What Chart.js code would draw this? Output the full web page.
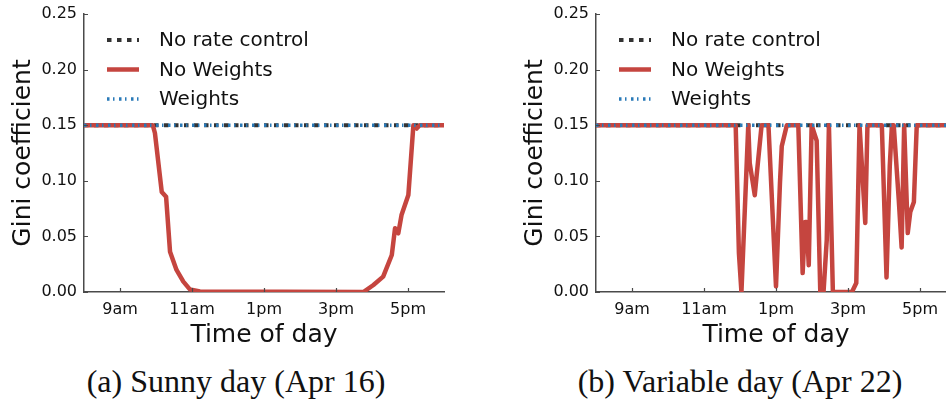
<!DOCTYPE html>
<html>
<head>
<meta charset="utf-8">
<script src="https://cdn.jsdelivr.net/npm/chart.js@4"></script>
<style>
    body { margin: 0; width: 946px; height: 404px; overflow: hidden; background: #fff; position: relative; }
    .panel { position: absolute; top: 0; }
    .caption { position: absolute; top: 365px; height: 32px; line-height: 32px; font-family: "Liberation Serif", serif; font-size: 32px; color: #111; white-space: nowrap; transform: translateX(-50%); }
</style>
</head>
<body>
<div class="panel" style="left:0px"><canvas id="sunnyChart" width="460" height="350"></canvas></div>
<div class="panel" style="left:512px"><canvas id="variableChart" width="460" height="350"></canvas></div>
<div class="caption" style="left:236px">(a) Sunny day (Apr 16)</div>
<div class="caption" style="left:740px">(b) Variable day (Apr 22)</div>
<script>
// Time of day in hours (8 = 8am, 18 = 6pm)
const xRange = [8, 18];
const tickHours = [9, 11, 13, 15, 17];
const tickLabels = ['9am', '11am', '1pm', '3pm', '5pm'];

// Flat baselines (no rate control / weights)
const baselineHours = [8, 18];
const noRateControl = [0.15, 0.15];
const weights = [0.15, 0.15];

// Sunny day (Apr 16), "No Weights" series
const sunnyHours = [8, 9.91, 9.97, 10.16, 10.28, 10.39, 10.57, 10.76, 10.94, 11.22, 15.76, 16.04, 16.31, 16.55, 16.64, 16.73, 16.82, 17.01, 17.15, 17.24, 17.33, 18];
const sunnyNoWeights = [0.15, 0.15, 0.143, 0.090, 0.0857, 0.0362, 0.0198, 0.0093, 0.0024, 0.0005, 0, 0.0063, 0.0138, 0.0333, 0.0573, 0.0528, 0.0692, 0.0872, 0.150, 0.147, 0.15, 0.15];

// Variable day (Apr 22), "No Weights" series
const variableHours = [8, 11.88, 11.97, 12.04, 12.23, 12.27, 12.41, 12.46, 12.60, 12.79, 13.0, 13.11, 13.16, 13.30, 13.62, 13.74, 13.81, 13.85, 13.91, 13.99, 14.13, 14.23, 14.32, 14.41, 14.47, 14.58, 15.11, 15.23, 15.32, 15.48, 15.54, 15.94, 16.07, 16.16, 16.22, 16.27, 16.41, 16.49, 16.56, 16.66, 16.73, 16.83, 16.91, 18];
const variableNoWeights = [0.15, 0.15, 0.035, 0, 0.15, 0.116, 0.087, 0.104, 0.15, 0.15, 0.005, 0.098, 0.131, 0.15, 0.15, 0.017, 0.063, 0.063, 0.024, 0.15, 0.136, 0, 0, 0.047, 0.15, 0, 0, 0.008, 0.15, 0.062, 0.15, 0.15, 0.013, 0.113, 0.15, 0.15, 0.083, 0.040, 0.15, 0.053, 0.072, 0.081, 0.15, 0.15];

const yTicks = [0, 0.05, 0.10, 0.15, 0.20, 0.25];

const tickFont = { family: 'DejaVu Sans', size: 16 };
const titleFont = { family: 'DejaVu Sans', size: 25 };
const legendFont = '20px "DejaVu Sans"';
const axisColor = '#4a4a4a';

// Turn two arrays into {x, y} points
function toPoints(xs, ys) {
    return xs.map((x, i) => ({ x: x, y: ys[i] }));
}

// Legend drawn inside the plot at the top left (matplotlib style)
const insideLegend = {
    id: 'insideLegend',
    afterDraw(chart) {
        const ctx = chart.ctx;
        const area = chart.chartArea;
        ctx.save();
        chart.data.datasets.forEach((ds, i) => {
            const y = area.top + 26 + i * 29.5;
            ctx.beginPath();
            ctx.setLineDash(ds.borderDash || []);
            ctx.lineWidth = ds.borderWidth;
            ctx.strokeStyle = ds.borderColor;
            ctx.lineCap = 'butt';
            ctx.moveTo(area.left + 23, y);
            ctx.lineTo(area.left + 55, y);
            ctx.stroke();
            ctx.setLineDash([]);
            ctx.fillStyle = '#111';
            ctx.font = legendFont;
            ctx.textBaseline = 'middle';
            ctx.fillText(ds.label, area.left + 75, y + 1);
        });
        ctx.restore();
    }
};

// Short tick marks pointing into the plot
const inwardTicks = {
    id: 'inwardTicks',
    afterDraw(chart) {
        const ctx = chart.ctx;
        const area = chart.chartArea;
        const xs = chart.scales.x;
        const ys = chart.scales.y;
        ctx.save();
        ctx.strokeStyle = axisColor;
        ctx.lineWidth = 1.2;
        ctx.beginPath();
        tickHours.forEach(h => {
            const px = Math.round(xs.getPixelForValue(h)) + 0.5;
            ctx.moveTo(px, area.bottom);
            ctx.lineTo(px, area.bottom - 4);
        });
        yTicks.forEach(v => {
            const py = Math.round(ys.getPixelForValue(v)) + 0.5;
            ctx.moveTo(area.left, py);
            ctx.lineTo(area.left + 4, py);
        });
        ctx.stroke();
        ctx.restore();
    }
};

function createChart(canvasId, hours, noWeights) {
    const ctx = document.getElementById(canvasId).getContext('2d');

    new Chart(ctx, {
        type: 'scatter',
        data: {
            datasets: [
                {
                    label: 'No rate control',
                    data: toPoints(baselineHours, noRateControl),
                    borderColor: '#333333',
                    borderWidth: 4,
                    borderDash: [4.5, 5.5],
                    order: 2
                },
                {
                    label: 'No Weights',
                    data: toPoints(hours, noWeights),
                    borderColor: '#c5453f',
                    borderWidth: 4.5,
                    borderJoinStyle: 'round',
                    order: 1
                },
                {
                    label: 'Weights',
                    data: toPoints(baselineHours, weights),
                    borderColor: '#2a7ab8',
                    borderWidth: 3.5,
                    borderDash: [2.5, 3.5, 1.5, 4.5],
                    order: 0
                }
            ].map(ds => Object.assign(ds, { showLine: true, pointRadius: 0, fill: false, tension: 0 }))
        },
        options: {
            responsive: false,
            animation: false,
            devicePixelRatio: 1,
            layout: { padding: { left: 0, top: 14, right: 16, bottom: 0 } },
            plugins: {
                legend: { display: false },
                tooltip: { enabled: false }
            },
            scales: {
                x: {
                    type: 'linear',
                    min: xRange[0],
                    max: xRange[1],
                    afterBuildTicks: scale => { scale.ticks = tickHours.map(v => ({ value: v })); },
                    afterFit: scale => { scale.height = 58; scale.paddingLeft = 0; scale.paddingRight = 0; },
                    grid: { display: true, drawOnChartArea: false, drawTicks: false },
                    border: { display: true, color: axisColor, width: 1.5 },
                    ticks: {
                        font: tickFont,
                        color: '#111',
                        padding: 8,
                        maxRotation: 0,
                        callback: (value, index) => tickLabels[index]
                    },
                    title: { display: true, text: 'Time of day', font: titleFont, color: '#111', padding: { top: 3, bottom: 0 } }
                },
                y: {
                    min: 0,
                    max: 0.25,
                    afterBuildTicks: scale => { scale.ticks = yTicks.map(v => ({ value: v })); },
                    afterFit: scale => { scale.width = 84; scale.paddingTop = 0; scale.paddingBottom = 0; },
                    grid: { display: true, drawOnChartArea: false, drawTicks: false },
                    border: { display: true, color: axisColor, width: 1.5 },
                    ticks: {
                        font: tickFont,
                        color: '#111',
                        padding: 7,
                        callback: value => value.toFixed(2)
                    },
                    title: { display: true, text: 'Gini coefficient', font: titleFont, color: '#111', padding: { top: 8, bottom: 0 } }
                }
            }
        },
        plugins: [inwardTicks, insideLegend]
    });
}

createChart('sunnyChart', sunnyHours, sunnyNoWeights);
createChart('variableChart', variableHours, variableNoWeights);
</script>
</body>
</html>
